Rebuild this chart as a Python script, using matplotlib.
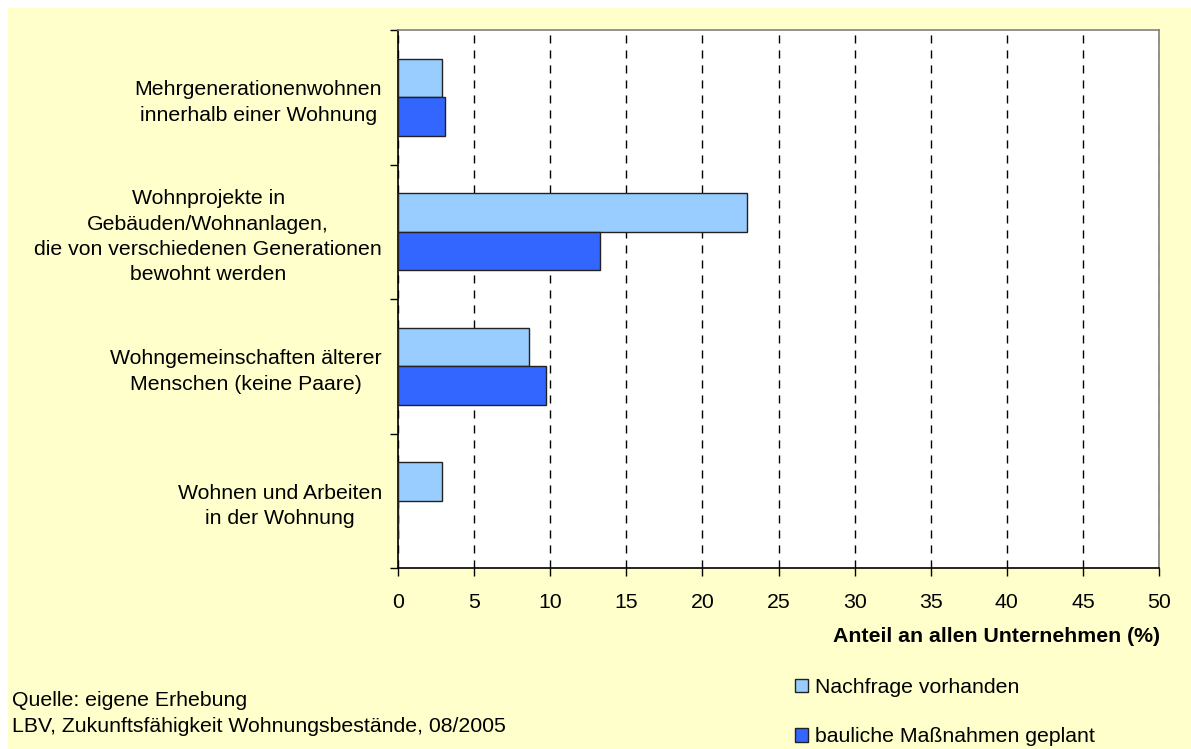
import matplotlib.pyplot as plt
import numpy as np
from matplotlib.patches import Rectangle

categories = [
    "Mehrgenerationenwohnen\ninnerhalb einer Wohnung",
    "Wohnprojekte in\nGebäuden/Wohnanlagen,\ndie von verschiedenen Generationen\nbewohnt werden",
    "Wohngemeinschaften älterer\nMenschen (keine Paare)",
    "Wohnen und Arbeiten\nin der Wohnung",
]
nachfrage = [2.9, 22.9, 8.6, 2.9]
geplant = [3.1, 13.3, 9.7, 0.0]
x_ticks = [0, 5, 10, 15, 20, 25, 30, 35, 40, 45, 50]

FS = 15.3
plt.rcParams["font.family"] = ["Liberation Sans", "DejaVu Sans"]
plt.rcParams["font.size"] = FS

fig = plt.figure(figsize=(11.91, 7.49), dpi=100)
fig.patch.set_facecolor("white")
fig.patches.append(Rectangle((8 / 1191, 0), 1 - 8 / 1191, 1 - 8 / 749,
                             transform=fig.transFigure, facecolor="#FFFFCC",
                             edgecolor="none", zorder=-10))

ax = fig.add_axes([398 / 1191, 1 - 568 / 749, (1159 - 398) / 1191, (568 - 30) / 749])
ax.set_facecolor("white")

y = np.arange(len(categories))
h = 1 / 3.5
ax.barh(y - h / 2, nachfrage, height=h, color="#99CCFF", edgecolor="#222222",
        linewidth=1, label="Nachfrage vorhanden", zorder=3)
ax.barh(y + h / 2, geplant, height=h, color="#3366FF", edgecolor="#222222",
        linewidth=1, label="bauliche Maßnahmen geplant", zorder=3)

ax.set_ylim(len(categories) - 0.5, -0.5)
ax.set_xlim(0, 50)
ax.set_xticks(x_ticks)
ax.set_yticks(y)
ax.set_yticklabels(categories, ha="right", multialignment="center",
                   linespacing=1.42)
ax.tick_params(axis="y", length=0, pad=11.5)
ax.set_yticks(np.arange(-0.5, len(categories)), minor=True)
ax.tick_params(axis="y", which="minor", length=6, width=1)
ax.tick_params(axis="x", length=6, width=1, pad=12)
ax.xaxis.grid(True, linestyle=(0, (5.8, 5)), color="black", linewidth=1, zorder=0)

for side in ["top", "right"]:
    ax.spines[side].set_color("#808080")
for side in ["left", "bottom"]:
    ax.spines[side].set_color("black")
for s in ax.spines.values():
    s.set_linewidth(1.2)

fig.text(1160 / 1191, 1 - 637 / 749, "Anteil an allen Unternehmen (%)",
         ha="right", va="center", fontweight="bold", fontsize=FS)

ax.legend(loc="upper left", bbox_to_anchor=(795 / 1191, 1 - 678 / 749),
          bbox_transform=fig.transFigure, frameon=False, ncol=1,
          handlelength=0.62, handleheight=0.62, handletextpad=0.3,
          labelspacing=1.42, borderaxespad=0, borderpad=0, fontsize=FS)

fig.text(12 / 1191, 1 - 700 / 749, "Quelle: eigene Erhebung", ha="left",
         va="center", fontsize=FS)
fig.text(12 / 1191, 1 - 727 / 749,
         "LBV, Zukunftsfähigkeit Wohnungsbestände, 08/2005", ha="left",
         va="center", fontsize=FS)

fig.savefig("out.png", dpi=100)
